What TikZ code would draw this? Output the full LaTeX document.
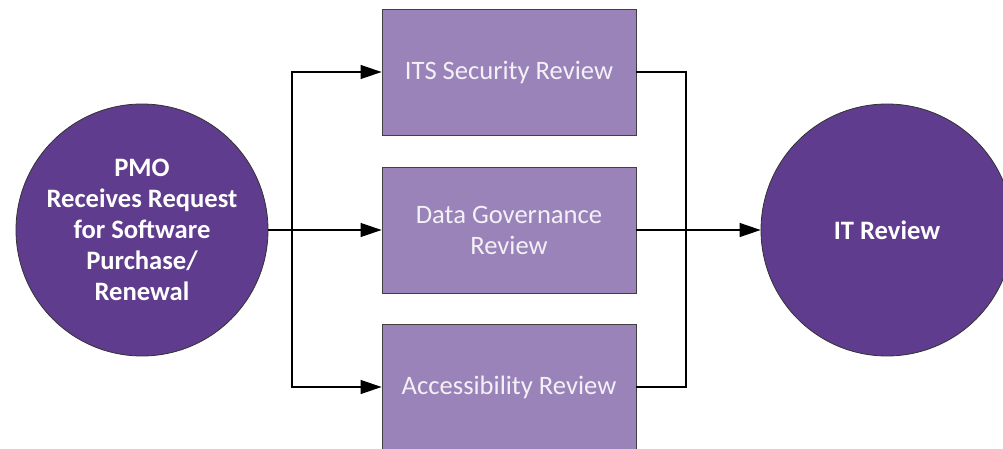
\documentclass[tikz,border=0pt]{standalone}
\usepackage{fontspec}
\setmainfont{Carlito}
\usetikzlibrary{arrows.meta}
\definecolor{darkpurple}{HTML}{5F3C8D}
\definecolor{lightpurple}{HTML}{9A83B8}
\definecolor{boxtext}{HTML}{F3F1F7}
\tikzset{
	stage/.style={circle, draw=black!80, line width=0.8pt, fill=darkpurple, text=white,
		minimum size=252pt, inner sep=0pt, align=center, font=\fontsize{26.6}{31}\selectfont\bfseries},
	review/.style={rectangle, draw=black!75, line width=0.9pt, fill=lightpurple, text=boxtext,
		minimum width=254pt, minimum height=126pt, inner sep=0pt, align=center, font=\fontsize{26.6}{31}\selectfont},
	flow/.style={line width=1.2pt, -{Triangle[length=21pt,width=14pt]}},
	link/.style={line width=1.2pt}
}
\begin{document}
\begin{tikzpicture}[x=1pt,y=-1pt]
\useasboundingbox (0,0) rectangle (1003,449);
\clip (0,0) rectangle (1003,449);
% stages
\node[stage] (pmo) at (142,230) {PMO\\Receives Request\\for Software\\Purchase/\\Renewal};
\node[stage] (itrev) at (887,230) {IT Review};
% reviews
\node[review] (its) at (509,72) {ITS Security Review};
\node[review] (data) at (509,230) {Data Governance\\Review};
\node[review] (access) at (509,387) {Accessibility Review};
% split and join
\coordinate (split) at (292,230);
\coordinate (join) at (686,230);
\draw[flow] (pmo.east) -- (data.west);
\draw[flow] (split) |- (its.west);
\draw[flow] (split) |- (access.west);
\draw[link] (its.east) -| (join) |- (access.east);
\draw[flow] (data.east) -- (itrev.west);
\end{tikzpicture}
\end{document}
